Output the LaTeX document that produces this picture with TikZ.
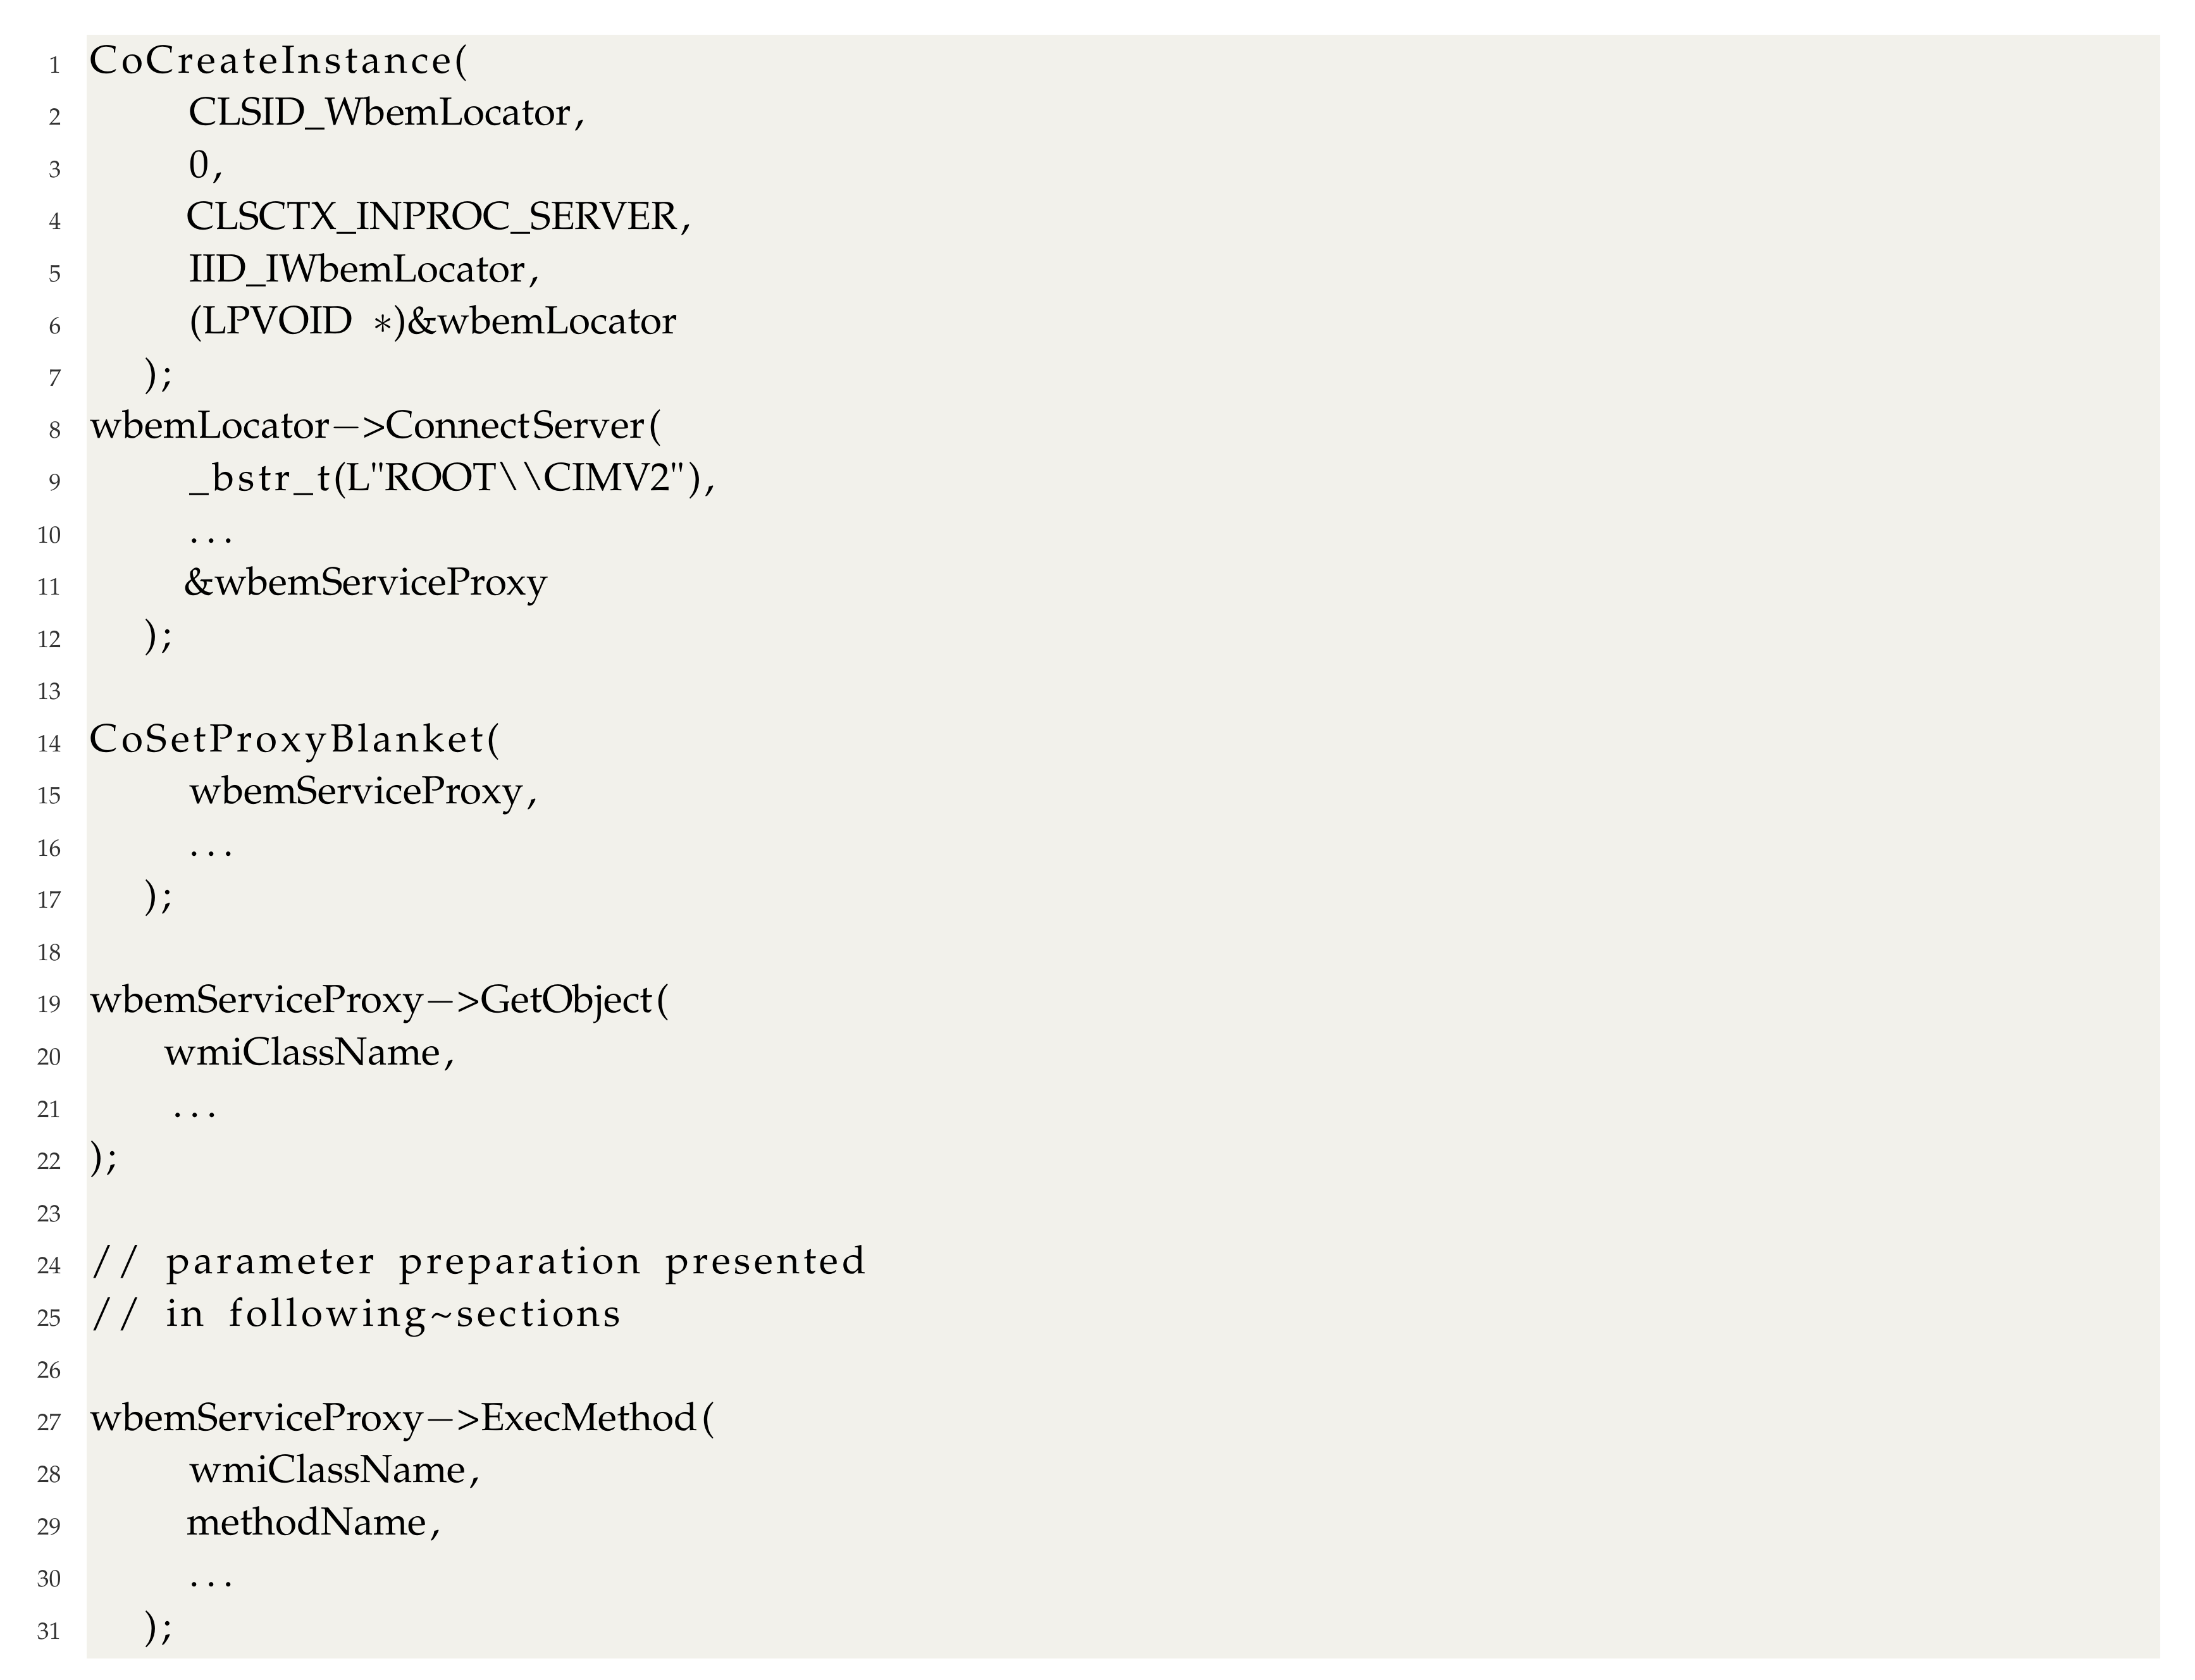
\documentclass[tikz,border=0pt]{standalone}
\usepackage[T1]{fontenc}
\usepackage{mathpazo}
\definecolor{bg}{HTML}{F2F1EB}
\begin{document}
\begin{tikzpicture}[x=0.5pt,y=-0.5pt,
  code/.style={anchor=base west,inner sep=0pt,font=\fontsize{14}{16}\selectfont},
  num/.style={anchor=base east,inner sep=0pt,font=\fontsize{8.5}{10}\selectfont,text=black!80}]
\def\,{\kern1.3pt}
\def\W{\hspace{9pt}}
\useasboundingbox (0,0) rectangle (1568,1200);
\fill[bg] (62,25) rectangle (1543,1185);
\foreach \i in {1,...,31}{
  \node[num] (n\i) at (44,{52+(\i-1)*37.3}) {\i};
}
\def\L#1#2#3{\node[code] (c#1) at (#2,{52+(#1-1)*37.3}) {#3};}
\L{1}{64}{C\,o\,C\,r\,e\,a\,t\,e\,I\,n\,s\,t\,a\,n\,c\,e\,(}
\L{2}{135}{CLSID\_WbemLocator\,,}
\L{3}{135}{0\,,}
\L{4}{133}{CLSCTX\_INPROC\_SERVER\,,}
\L{5}{135}{IID\_IWbemLocator\,,}
\L{6}{135}{(LPVOID \ $*$)\&wbemLocator}
\L{7}{103}{)\,;}
\L{8}{64}{wbemLocator$-$>Connect\,Server\,(}
\L{9}{135}{\_\,b\,s\,t\,r\,\_\,t\,(L"ROOT\textbackslash\textbackslash CIMV2"\,)\,,}
\L{10}{135}{.\,\,.\,\,.}
\L{11}{131}{\&wbemServiceProxy}
\L{12}{103}{)\,;}
\L{14}{64}{C\,o\,S\,e\,t\,P\,r\,o\,x\,y\,B\,l\,a\,n\,k\,e\,t\,(}
\L{15}{135}{wbemServiceProxy\,,}
\L{16}{135}{.\,\,.\,\,.}
\L{17}{103}{)\,;}
\L{19}{64}{wbemServiceProxy$-$>GetObject\,(}
\L{20}{117}{wmiClassName\,,}
\L{21}{123}{.\,\,.\,\,.}
\L{22}{64}{)\,;}
\L{24}{64}{/\,/\W p\,a\,r\,a\,m\,e\,t\,e\,r\W p\,r\,e\,p\,a\,r\,a\,t\,i\,o\,n\W p\,r\,e\,s\,e\,n\,t\,e\,d}
\L{25}{64}{/\,/\W i\,n\W f\,o\,l\,l\,o\,w\,i\,n\,g\,\textasciitilde\,s\,e\,c\,t\,i\,o\,n\,s}
\L{27}{64}{wbemServiceProxy$-$>ExecMethod\,(}
\L{28}{135}{wmiClassName\,,}
\L{29}{133}{methodName\,,}
\L{30}{135}{.\,\,.\,\,.}
\L{31}{103}{)\,;}
\end{tikzpicture}
\end{document}
